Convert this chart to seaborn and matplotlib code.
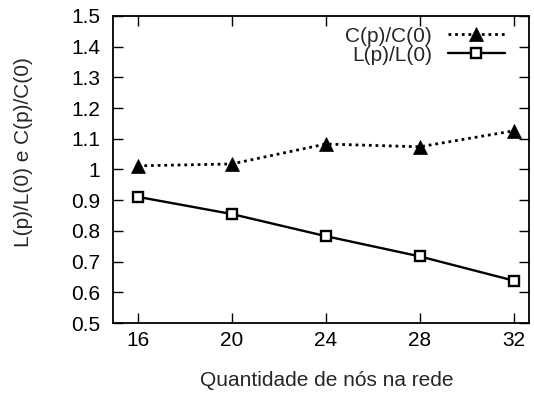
import matplotlib
matplotlib.use("Agg")
import matplotlib.pyplot as plt
import seaborn as sns
import pandas as pd

# dados
nos = [16, 20, 24, 28, 32]
c_ratio = [1.012, 1.018, 1.083, 1.074, 1.126]
l_ratio = [0.911, 0.855, 0.783, 0.717, 0.638]
yticks = [0.5, 0.6, 0.7, 0.8, 0.9, 1.0, 1.1, 1.2, 1.3, 1.4, 1.5]
ytick_labels = ["0.5", "0.6", "0.7", "0.8", "0.9", "1", "1.1", "1.2", "1.3", "1.4", "1.5"]

df = pd.DataFrame({"nos": nos, "C": c_ratio, "L": l_ratio})

sns.set_style("ticks")
plt.rcParams["font.family"] = ["Liberation Sans", "DejaVu Sans"]
fs = 15

fig = plt.figure(figsize=(5.34, 3.94), dpi=100)
ax = fig.add_axes([0.2116, 0.1802, 0.7790, 0.7792])

sns.lineplot(data=df, x="nos", y="C", ax=ax, color="black", linewidth=2,
             linestyle=(0, (1, 1.4)), marker="^", markersize=9.5,
             markeredgecolor="black", markeredgewidth=0.5, label="C(p)/C(0)")
sns.lineplot(data=df, x="nos", y="L", ax=ax, color="black", linewidth=1.7,
             marker="s", markersize=6.5, markerfacecolor="white",
             markeredgecolor="black", markeredgewidth=1.7, label="L(p)/L(0)")

ax.set_xlim(14.95, 32.65)
ax.set_ylim(0.5, 1.5)
ax.set_xticks(nos)
ax.set_yticks(yticks)
ax.set_yticklabels(ytick_labels)
ax.tick_params(direction="in", length=7, width=1, top=True, right=True,
               labelsize=fs, colors="black")
ax.tick_params(axis="y", pad=9)
ax.tick_params(axis="x", pad=6)
for s in ax.spines.values():
    s.set_visible(True)
    s.set_linewidth(1.3)
    s.set_color("black")

ax.set_xlabel("Quantidade de nós na rede", fontsize=fs)
ax.set_ylabel("L(p)/L(0) e C(p)/C(0)", fontsize=fs)
ax.xaxis.set_label_coords(0.514, -0.157)
ax.yaxis.set_label_coords(-0.192, 0.557)

leg = ax.legend(loc="upper right", bbox_to_anchor=(0.942, 0.965),
                frameon=False, markerfirst=False, fontsize=fs,
                handlelength=2.75, borderaxespad=0, borderpad=0,
                labelspacing=0.0, handletextpad=0.75)
for t in leg.get_texts():
    t.set_ha("right")

fig.savefig("out.png", dpi=100)
